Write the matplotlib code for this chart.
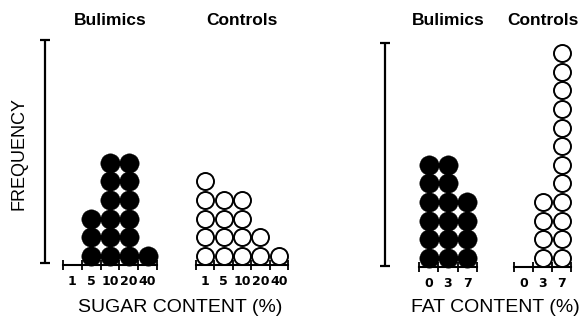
import numpy as np
import matplotlib
matplotlib.use("Agg")
import matplotlib.pyplot as plt

# Dot-histogram data: number of subjects in each content category
sugar_bins = ["1", "5", "10", "20", "40"]
sugar_bulimics = [0, 3, 6, 6, 1]
sugar_controls = [5, 4, 4, 2, 1]

fat_bins = ["0", "3", "7"]
fat_bulimics = [6, 6, 4]
fat_controls = [0, 4, 12]

group_titles = ["Bulimics", "Controls"]
freq_scale = 12          # height of the frequency scale bar, in subjects

W, H = 581, 320
ROW = 18.6               # pixels per subject (vertical)

fig = plt.figure(figsize=(W / 100, H / 100), dpi=100)
fig.patch.set_facecolor("white")


def px_axes(x0, x1, y_base, top_units):
    """Axes placed by pixel edges; y_base is measured from the top of the figure."""
    height = ROW * top_units
    return fig.add_axes([x0 / W, (H - y_base) / H, (x1 - x0) / W, height / H])


def dot_group(x0, x1, y_base, labels, counts, filled, title):
    ax = px_axes(x0, x1, y_base, freq_scale)
    n = len(labels)
    ax.set_xlim(0, n)
    ax.set_ylim(0, freq_scale)
    for spine in ("left", "right", "top"):
        ax.spines[spine].set_visible(False)
    ax.spines["bottom"].set_linewidth(1.5)
    ax.set_yticks([])
    ax.set_xticks(np.arange(n + 1))
    ax.set_xticklabels([])
    ax.set_xticks(np.arange(n) + 0.5, minor=True)
    ax.set_xticklabels(labels, minor=True, fontsize=9, fontweight="bold",
                       family="DejaVu Sans")
    ax.tick_params(axis="x", which="major", direction="inout", length=7.5,
                   width=1.3, color="black")
    ax.tick_params(axis="x", which="minor", length=0, pad=7.5)
    ax.patch.set_alpha(0)

    xs, ys = [], []
    for i, c in enumerate(counts):
        xs += [i + 0.5] * c
        ys += list(np.arange(c) + 0.5)
    if filled:
        ax.scatter(xs, ys, s=195, facecolor="black", edgecolor="black",
                   linewidth=0.3, clip_on=False, zorder=3)
    else:
        ax.scatter(xs, ys, s=150, facecolor="white", edgecolor="black",
                   linewidth=1.4, clip_on=False, zorder=3)

    ax.set_title(title, fontsize=12.5, fontweight="bold", family="Liberation Sans",
                 pad=0, y=1.0)
    return ax


def freq_bar(x, y_base):
    ax = px_axes(x - 6, x + 6, y_base, freq_scale)
    ax.set_xlim(-1, 1)
    ax.set_ylim(0, freq_scale)
    ax.axis("off")
    ax.vlines(0, 0, freq_scale, color="black", linewidth=1.6, clip_on=False)
    ax.hlines([0, freq_scale], -0.8, 0.8, color="black", linewidth=1.6,
              clip_on=False)
    return ax


# Sugar panel
freq_bar(45, 263)
a1 = dot_group(63, 157, 265, sugar_bins, sugar_bulimics, True, group_titles[0])
a2 = dot_group(196, 288, 265, sugar_bins, sugar_controls, False, group_titles[1])

# Fat panel
freq_bar(385, 266)
a3 = dot_group(419, 477, 267, fat_bins, fat_bulimics, True, group_titles[0])
a4 = dot_group(514, 571, 267, fat_bins, fat_controls, False, group_titles[1])

# Titles sit at a fixed height across the figure
for ax in (a1, a2, a3, a4):
    t = ax.title
    bb = ax.get_position()
    t.set_transform(fig.transFigure)
    t.set_position(((bb.x0 + bb.x1) / 2, 1 - 25 / H))
    t.set_va("baseline")

fig.text(19 / W, 1 - 154 / H, "FREQUENCY", rotation=90, ha="center", va="center",
         fontsize=13, family="Liberation Sans")
fig.text(180 / W, 1 - 312 / H, "SUGAR CONTENT (%)", ha="center", va="baseline",
         fontsize=14, family="Liberation Sans")
fig.text(495 / W, 1 - 312 / H, "FAT CONTENT (%)", ha="center", va="baseline",
         fontsize=14, family="Liberation Sans")

fig.savefig("out.png", dpi=100, facecolor="white")
